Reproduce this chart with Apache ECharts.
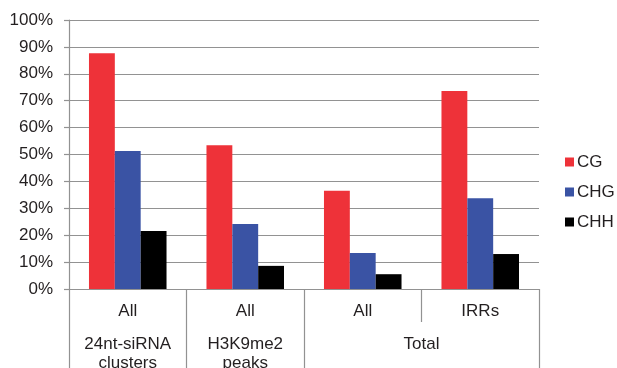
<!DOCTYPE html>
<html>
<head>
<meta charset="utf-8">
<script src="https://cdn.jsdelivr.net/npm/echarts@6/dist/echarts.min.js"></script>
<style>
html,body{margin:0;padding:0;background:#fff;}
#c{width:617px;height:368px;}
</style>
</head>
<body>
<div id="c"></div>
<script>
var categories = ["All", "All", "All", "IRRs"];
var groupLabels = ["24nt-siRNA\nclusters", "H3K9me2\npeaks", "Total"];
var groupCenters = [0.5, 1.5, 3];
var groupBounds = [0, 1, 2, 4];
var seriesNames = ["CG", "CHG", "CHH"];
var cgValues = [0.876, 0.534, 0.365, 0.736];
var chgValues = [0.513, 0.242, 0.134, 0.337];
var chhValues = [0.216, 0.086, 0.055, 0.130];
var yTicks = [0, 0.1, 0.2, 0.3, 0.4, 0.5, 0.6, 0.7, 0.8, 0.9, 1.0];

var colors = ["#EE3239", "#3A53A4", "#000000"];
var lineColor = "#929292";
var textColor = "#231F20";
var font = "Liberation Sans, Arial, sans-serif";

var chart = echarts.init(document.getElementById('c'), null, {renderer: 'canvas'});
chart.setOption({
  animation: false,
  backgroundColor: '#fff',
  textStyle: {fontFamily: font, color: textColor},
  grid: {left: 69, right: 78, top: 20, bottom: 79, containLabel: false, outerBoundsMode: 'none'},
  legend: {
    orient: 'vertical',
    left: 565,
    top: 153.5,
    padding: 0,
    itemWidth: 9,
    itemHeight: 9,
    itemGap: 13,
    icon: 'rect',
    data: seriesNames,
    textStyle: {fontSize: 17, color: textColor, fontFamily: font, padding: [0, 0, 0, -2]}
  },
  xAxis: [
    {
      type: 'category',
      data: categories,
      position: 'bottom',
      axisLine: {show: true, lineStyle: {color: lineColor, width: 1.2}},
      axisTick: {show: true, length: 33, lineStyle: {color: lineColor, width: 1.2}},
      axisLabel: {fontSize: 17, color: textColor, fontFamily: font, margin: 14},
      splitLine: {show: false}
    },
    {
      type: 'value',
      min: 0,
      max: 4,
      position: 'bottom',
      offset: 33,
      axisLine: {show: false},
      axisTick: {show: true, length: 50, customValues: groupBounds, lineStyle: {color: lineColor, width: 1.2}},
      axisLabel: {
        show: true,
        customValues: groupCenters,
        fontSize: 17,
        lineHeight: 19,
        color: textColor,
        fontFamily: font,
        margin: 13,
        formatter: function (v) {
          var i = groupCenters.indexOf(v);
          return i >= 0 ? groupLabels[i] : '';
        }
      },
      splitLine: {show: false}
    }
  ],
  yAxis: {
    type: 'value',
    min: 0,
    max: 1,
    interval: 0.1,
    axisLine: {show: true, lineStyle: {color: lineColor, width: 1.2}},
    axisTick: {show: true, length: 5, lineStyle: {color: lineColor, width: 1.2}},
    axisLabel: {
      fontSize: 17,
      color: textColor,
      fontFamily: font,
      margin: 16,
      formatter: function (v) { return Math.round(v * 100) + '%'; }
    },
    splitLine: {show: true, lineStyle: {color: lineColor, width: 1.2}}
  },
  series: [
    {name: seriesNames[0], type: 'bar', xAxisIndex: 0, data: cgValues, itemStyle: {color: colors[0]}, barGap: '0%', barCategoryGap: '34%'},
    {name: seriesNames[1], type: 'bar', xAxisIndex: 0, data: chgValues, itemStyle: {color: colors[1]}, barGap: '0%', barCategoryGap: '34%'},
    {name: seriesNames[2], type: 'bar', xAxisIndex: 0, data: chhValues, itemStyle: {color: colors[2]}, barGap: '0%', barCategoryGap: '34%'}
  ]
});
</script>
</body>
</html>
